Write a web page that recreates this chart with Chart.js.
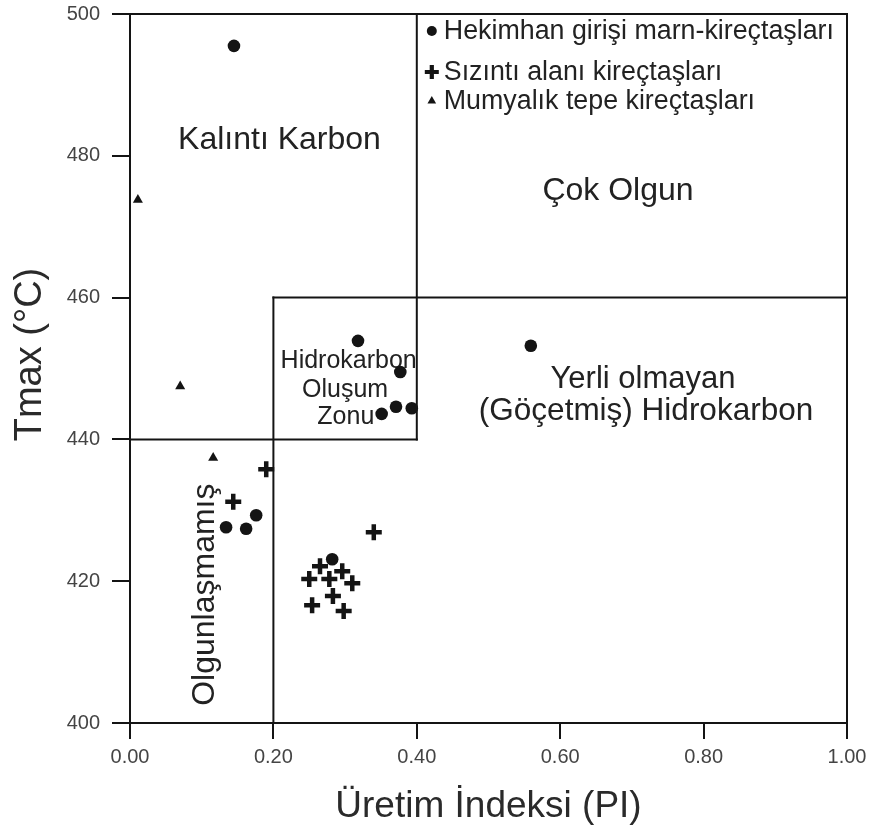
<!DOCTYPE html>
<html lang="tr">
<head>
<meta charset="utf-8">
<title>Tmax – Üretim İndeksi (PI)</title>
<script src="https://cdn.jsdelivr.net/npm/chart.js@4/dist/chart.umd.min.js"></script>
<style>
  html, body { margin: 0; padding: 0; background: #fff; }
  #wrap { width: 869px; height: 830px; }
</style>
</head>
<body>
<div id="wrap"><canvas id="c" width="869" height="830"></canvas></div>
<script>
// ---- series ----
const seriesNames = [
  'Hekimhan girişi marn-kireçtaşları',
  'Sızıntı alanı kireçtaşları',
  'Mumyalık tepe kireçtaşları'
];

// Hekimhan girişi marn-kireçtaşları
const hekimhanPI   = [0.145, 0.318, 0.377, 0.351, 0.371, 0.393, 0.559, 0.134, 0.162, 0.176, 0.282];
const hekimhanTmax = [495.5, 453.9, 449.5, 443.6, 444.6, 444.4, 453.2, 427.6, 427.4, 429.3, 423.1];

// Sızıntı alanı kireçtaşları
const sizintiPI   = [0.144, 0.190, 0.340, 0.265, 0.296, 0.250, 0.278, 0.310, 0.283, 0.254, 0.298];
const sizintiTmax = [431.2, 435.8, 426.9, 422.1, 421.4, 420.3, 420.3, 419.7, 417.9, 416.6, 415.8];

// Mumyalık tepe kireçtaşları
const mumyalikPI   = [0.011, 0.070, 0.116];
const mumyalikTmax = [473.8, 447.5, 437.4];

// ---- axes ----
const xTickValues = [0, 0.2, 0.4, 0.6, 0.8, 1.0];
const xTickLabels = ['0.00', '0.20', '0.40', '0.60', '0.80', '1.00'];
const yTickValues = [400, 420, 440, 460, 480, 500];
const yTickLabels = ['400', '420', '440', '460', '480', '500'];
const xTitle = 'Üretim İndeksi (PI)';
const yTitle = 'Tmax (°C)';

// zone boundaries, in PI / Tmax units: [x1, y1, x2, y2]
const zoneLines = [
  [0.0, 500, 1.0, 500],
  [1.0, 500, 1.0, 400],
  [0.4, 500, 0.4, 440],
  [0.0, 440, 0.4, 440],
  [0.2, 460, 1.0, 460],
  [0.2, 460, 0.2, 400]
];

// zone names
const zoneLabels = [
  { text: 'Kalıntı Karbon',          x: 0.2085, y: 482.2, size: 32 },
  { text: 'Çok Olgun',               x: 0.6806, y: 475.0, size: 32 },
  { text: 'Yerli olmayan',           x: 0.7155, y: 448.5, size: 31 },
  { text: '(Göçetmiş) Hidrokarbon',  x: 0.7197, y: 444.0, size: 31.5 },
  { text: 'Hidrokarbon',             x: 0.305,  y: 451.1, size: 25 },
  { text: 'Oluşum',                  x: 0.300,  y: 447.0, size: 25 },
  { text: 'Zonu',                    x: 0.301,  y: 443.2, size: 25 },
  { text: 'Olgunlaşmamış',           x: 0.1046, y: 418.1, size: 32, rotate: true }
];

const FONT = '"Liberation Sans", Arial, Helvetica, sans-serif';
const INK = '#141414';

const toPoints = (xs, ys) => xs.map((v, i) => ({ x: v, y: ys[i] }));

const markerStyles = [
  { pointStyle: 'circle',   radius: 6.3, borderWidth: 0 },
  { pointStyle: 'cross',    radius: 8,   borderWidth: 4.5 },
  { pointStyle: 'triangle', radius: 5.8, borderWidth: 0 }
];

function drawMarker(ctx, style, cx, cy, r, lw) {
  ctx.save();
  ctx.fillStyle = INK;
  ctx.strokeStyle = INK;
  if (style === 'circle') {
    ctx.beginPath(); ctx.arc(cx, cy, r, 0, Math.PI * 2); ctx.fill();
  } else if (style === 'cross') {
    ctx.lineWidth = lw;
    ctx.beginPath();
    ctx.moveTo(cx - r, cy); ctx.lineTo(cx + r, cy);
    ctx.moveTo(cx, cy - r); ctx.lineTo(cx, cy + r);
    ctx.stroke();
  } else {
    const s = Math.sqrt(3) / 2;
    ctx.beginPath();
    ctx.moveTo(cx, cy - r);
    ctx.lineTo(cx + r * s, cy + r / 2);
    ctx.lineTo(cx - r * s, cy + r / 2);
    ctx.closePath(); ctx.fill();
  }
  ctx.restore();
}

// zone frame, zone names, vertical axis title and the in-plot legend
const zoneOverlay = {
  id: 'zoneOverlay',
  beforeDatasetsDraw(chart) {
    const { ctx, chartArea, scales: { x, y } } = chart;
    ctx.save();
    ctx.strokeStyle = INK;
    ctx.lineWidth = 2;
    ctx.lineCap = 'square';
    zoneLines.forEach(([x1, y1, x2, y2]) => {
      ctx.beginPath();
      ctx.moveTo(x.getPixelForValue(x1), y.getPixelForValue(y1));
      ctx.lineTo(x.getPixelForValue(x2), y.getPixelForValue(y2));
      ctx.stroke();
    });
    ctx.fillStyle = '#222';
    ctx.textAlign = 'center';
    ctx.textBaseline = 'middle';
    zoneLabels.forEach(l => {
      ctx.font = `${l.size}px ${FONT}`;
      const px = x.getPixelForValue(l.x);
      const py = y.getPixelForValue(l.y);
      if (l.rotate) {
        ctx.save();
        ctx.translate(px, py);
        ctx.rotate(-Math.PI / 2);
        ctx.fillText(l.text, 0, 0);
        ctx.restore();
      } else {
        ctx.fillText(l.text, px, py);
      }
    });

    // vertical axis title, a little above the middle of the axis
    ctx.fillStyle = '#2a2a2a';
    ctx.font = `38px ${FONT}`;
    ctx.save();
    ctx.translate(31, (chartArea.top + chartArea.bottom) / 2 - 14);
    ctx.rotate(-Math.PI / 2);
    ctx.fillText(yTitle, 0, 0);
    ctx.restore();
    ctx.restore();
  },
  afterDatasetsDraw(chart) {
    const { ctx, chartArea, scales: { x } } = chart;
    const mx = x.getPixelForValue(0.4) + 15;
    const rows = [17, 58, 87];
    const legendMarks = [
      { style: 'circle', r: 5, lw: 0 },
      { style: 'cross', r: 7, lw: 4.2 },
      { style: 'triangle', r: 5, lw: 0 }
    ];
    ctx.save();
    ctx.font = `26.8px ${FONT}`;
    ctx.fillStyle = '#222';
    ctx.textAlign = 'left';
    ctx.textBaseline = 'middle';
    seriesNames.forEach((name, i) => {
      const cy = chartArea.top + rows[i];
      const m = legendMarks[i];
      drawMarker(ctx, m.style, mx, cy, m.r, m.lw);
      ctx.fillText(name, mx + 12, cy + 1);
    });
    ctx.restore();
  }
};

const tickFont = { family: FONT, size: 20 };

new Chart(document.getElementById('c'), {
  type: 'scatter',
  data: {
    datasets: [
      { label: seriesNames[0], data: toPoints(hekimhanPI, hekimhanTmax),
        backgroundColor: INK, borderColor: INK, ...markerStyles[0] },
      { label: seriesNames[1], data: toPoints(sizintiPI, sizintiTmax),
        backgroundColor: INK, borderColor: INK, ...markerStyles[1] },
      { label: seriesNames[2], data: toPoints(mumyalikPI, mumyalikTmax),
        backgroundColor: INK, borderColor: INK, ...markerStyles[2] }
    ]
  },
  options: {
    responsive: false,
    animation: false,
    devicePixelRatio: 1,
    layout: { padding: { top: 14, right: 22, left: 0, bottom: 0 } },
    plugins: { legend: { display: false }, tooltip: { enabled: false } },
    scales: {
      x: {
        type: 'linear', position: 'bottom', min: 0, max: 1,
        afterFit(s) { s.height = 107; s.paddingLeft = 0; s.paddingRight = 0; },
        afterBuildTicks(s) { s.ticks = xTickValues.map(v => ({ value: v })); },
        ticks: {
          callback: (v, i) => xTickLabels[i],
          font: tickFont, color: '#444', padding: 6,
          maxRotation: 0, autoSkip: false
        },
        grid: { drawOnChartArea: false, drawTicks: true, tickLength: 16, color: INK, lineWidth: 2 },
        border: { display: true, color: INK, width: 2 },
        title: {
          display: true, text: xTitle,
          font: { family: FONT, size: 37 }, color: '#2a2a2a',
          padding: { top: 0, bottom: 1 }
        }
      },
      y: {
        type: 'linear', position: 'left', min: 400, max: 500,
        afterFit(s) { s.width = 130; s.paddingTop = 0; s.paddingBottom = 0; },
        afterBuildTicks(s) { s.ticks = yTickValues.map(v => ({ value: v })); },
        ticks: {
          callback: (v, i) => yTickLabels[i],
          font: tickFont, color: '#444', padding: 12, autoSkip: false
        },
        grid: { drawOnChartArea: false, drawTicks: true, tickLength: 18, color: INK, lineWidth: 2 },
        border: { display: true, color: INK, width: 2 },
        title: { display: false }
      }
    }
  },
  plugins: [zoneOverlay]
});
</script>
</body>
</html>
